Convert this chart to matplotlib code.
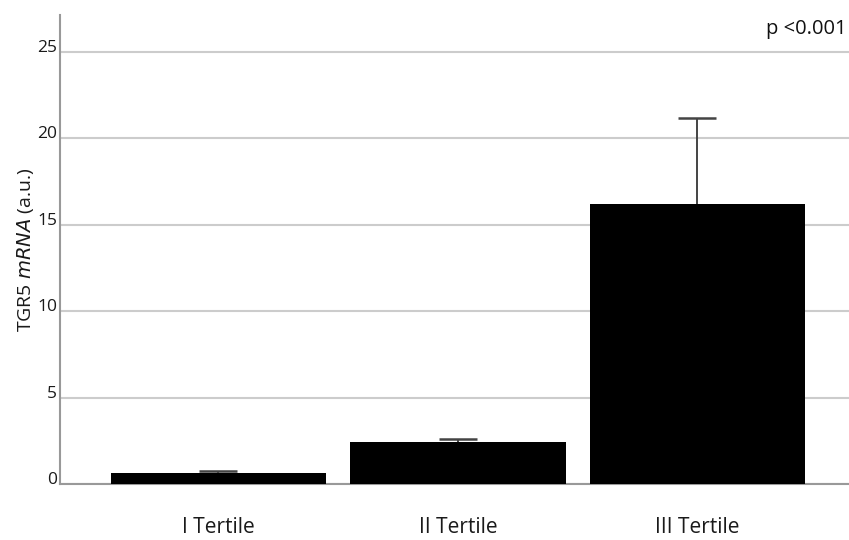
import matplotlib.pyplot as plt

# values
groups = ['I Tertile', 'II Tertile', 'III Tertile']
means = [0.62, 2.41, 16.2]
errors = [0.13, 0.18, 4.96]
y_ticks = [0, 5, 10, 15, 20, 25]
p_text = 'p <0.001'

plt.rcParams['font.family'] = ['Open Sans', 'DejaVu Sans']

fig = plt.figure(figsize=(8.49, 5.40), dpi=100)
ax = fig.add_axes([0.0707, 0.1037, 0.9293, 0.8676])

x = range(len(groups))
ax.bar(x, means, width=0.9, color='black', zorder=3)
# error bars go under the bars so only the upper whisker shows
ax.errorbar(x, means, yerr=errors, fmt='none',
            ecolor='#444444', elinewidth=1.4, capsize=14, capthick=1.8, zorder=2.5)

ax.set_xlim(-0.661, 2.633)
ax.set_ylim(0, 27.1)
ax.set_yticks(y_ticks)
ax.set_xticks(list(x))
ax.set_xticklabels(groups, fontsize=15, color='#1a1a1a')
ax.tick_params(axis='x', length=0, pad=24)
ax.tick_params(axis='y', length=0, pad=2, labelsize=12.5, labelcolor='#1a1a1a')
for lbl in ax.get_yticklabels():
    lbl.set_verticalalignment('baseline')

ax.yaxis.grid(True, color='#cccccc', linewidth=1.5, zorder=0)
ax.set_axisbelow(True)
for side in ['top', 'right']:
    ax.spines[side].set_visible(False)
ax.spines['left'].set_color('#999999')
ax.spines['bottom'].set_color('#999999')
ax.spines['left'].set_linewidth(1.5)
ax.spines['bottom'].set_linewidth(1.5)

ax.set_ylabel('TGR5 $\\it{mRNA}$ (a.u.)', fontsize=14, color='#1a1a1a', labelpad=1)
ax.text(0.997, 0.971, p_text, transform=ax.transAxes, ha='right', va='center',
        fontsize=14.5, color='#111111')

fig.savefig('out.png', dpi=100)
